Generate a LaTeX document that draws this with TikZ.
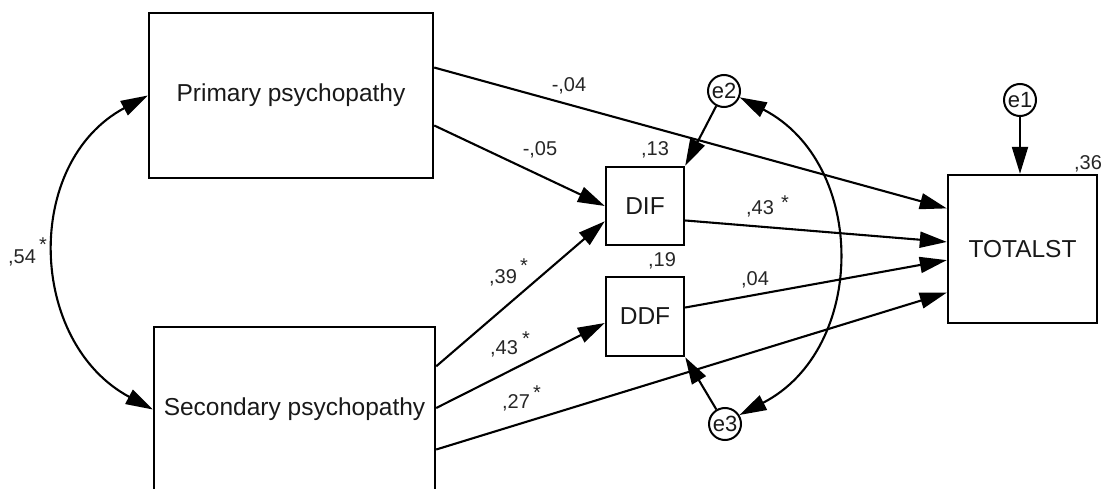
\documentclass[tikz,border=0pt]{standalone}
\usepackage{fontspec}
\setmainfont{Liberation Sans}
\usetikzlibrary{arrows.meta,calc}
\begin{document}
\begin{tikzpicture}[x=1pt,y=-1pt,
  >={Triangle[length=27pt,width=16pt]},
  box/.style={draw,line width=2.4pt,inner sep=0pt,text=black!90,font=\fontsize{24.5}{28}\selectfont},
  err/.style={draw,circle,line width=2pt,minimum size=32pt,inner sep=0pt,text=black!90,font=\fontsize{22}{24}\selectfont},
  lbl/.style={inner sep=0pt,text=black!85,font=\fontsize{20}{22}\selectfont},
  conn/.style={line width=2.1pt,->},
  cov/.style={line width=2.1pt,<->}
]
\useasboundingbox (0,0) rectangle (1106,489);
% boxes
\node[box,minimum width=284pt,minimum height=165pt] (prim) at (291,95.5) {Primary psychopathy};
\node[box,minimum width=281pt,minimum height=165pt] (sec) at (294.5,409.5) {Secondary psychopathy};
\node[box,minimum width=78pt,minimum height=78pt] (dif) at (645,206) {DIF};
\node[box,minimum width=78pt,minimum height=79pt] (ddf) at (645,316.5) {DDF};
\node[box,minimum width=149pt,minimum height=148pt] (tot) at (1022.5,249) {TOTALST};
% error terms
\node[err] (e1) at (1020,100) {e1};
\node[err] (e2) at (724,91) {e2};
\node[err] (e3) at (725,424) {e3};
% labels
\node[lbl] (l04) at (569,86) {-,04};
\node[lbl] (l05) at (540,150) {-,05};
\node[lbl] (l13) at (655,150) {,13};
\node[lbl] (l19) at (662,261) {,19};
\node[lbl] (l43a) at (760,209) {,43};
\node[lbl] (s43a) at (785,203) {*};
\node[lbl] (l04b) at (755,280) {,04};
\node[lbl] (l36) at (1088,164) {,36};
\node[lbl] (l39) at (503,278) {,39};
\node[lbl] (s39) at (524,266) {*};
\node[lbl] (l43b) at (504,349) {,43};
\node[lbl] (s43b) at (526,339) {*};
\node[lbl] (l27) at (516,403) {,27};
\node[lbl] (s27) at (537,393) {*};
\node[lbl] (l54) at (22,258) {,54};
\node[lbl] (s54) at (43,245) {*};
% regression paths
\draw[conn] ($(prim.north east)!0.333!(prim.south east)$) -- ($(tot.north west)!0.23!(tot.south west)$);
\draw[conn] ($(prim.north east)!0.679!(prim.south east)$) -- ($(dif.north west)!0.5!(dif.south west)$);
\draw[conn] ($(sec.north east)!0.242!(sec.south east)$) -- ($(dif.north west)!0.69!(dif.south west)$);
\draw[conn] ($(sec.north east)!0.491!(sec.south east)$) -- ($(ddf.north west)!0.58!(ddf.south west)$);
\draw[conn] ($(sec.north east)!0.739!(sec.south east)$) -- ($(tot.north west)!0.79!(tot.south west)$);
\draw[conn] ($(dif.north east)!0.68!(dif.south east)$) -- ($(tot.north west)!0.453!(tot.south west)$);
\draw[conn] ($(ddf.north east)!0.39!(ddf.south east)$) -- ($(tot.north west)!0.574!(tot.south west)$);
\draw[conn] (e1) -- (e1.south |- tot.north);
\draw[conn] (e2) -- (dif.north east);
\draw[conn] (e3) -- (ddf.south east);
% covariances
\draw[cov] (prim.west) .. controls +(-125,67) and +(-125,-67) .. (sec.west);
\draw[cov] (e2.-22) .. controls +(128,66) and +(128,-66) .. (e3.32);
\end{tikzpicture}
\end{document}
